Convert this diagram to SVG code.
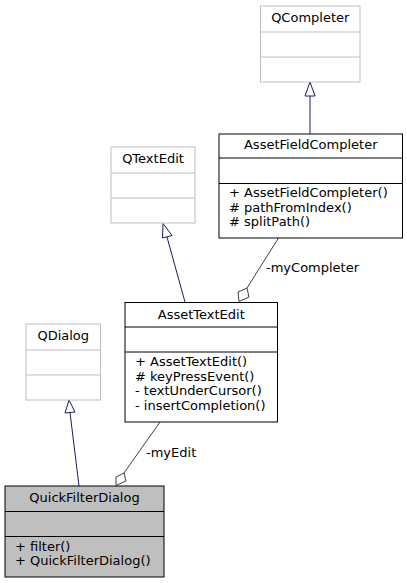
<svg xmlns="http://www.w3.org/2000/svg" width="407" height="583" viewBox="0 0 407 583">
<style>
text{font-family:"DejaVu Sans","Liberation Sans",sans-serif;font-size:13px;fill:#000}
.t{text-anchor:middle}
.ext rect,.ext line{stroke:#bfbfbf;fill:#fff;stroke-width:1}
.cls rect,.cls line{stroke:#000;fill:#fff;stroke-width:1}
.cur rect{fill:#bfbfbf}
.inh{stroke:#191970;fill:none;stroke-width:1}
.inh-h{stroke:#191970;fill:#fff;stroke-width:1}
.agg{stroke:#404040;fill:none;stroke-width:1}
.agg-h{stroke:#404040;fill:#fff;stroke-width:1}
</style>
<rect width="407" height="583" fill="#fff"/>
<g id="connectors">
<line class="inh" x1="310" y1="96" x2="310" y2="134"/>
<polygon class="inh-h" points="310,82 305,96 315,96"/>
<line class="inh" x1="167" y1="237" x2="185" y2="302"/>
<polygon class="inh-h" points="163,223.5 162.5,238 172,235.5"/>
<line class="inh" x1="70" y1="412.5" x2="79" y2="486"/>
<polygon class="inh-h" points="69,400 65,413 75,412"/>
<line class="agg" x1="278.5" y1="238" x2="247" y2="288"/>
<polygon class="agg-h" points="247,288 249,297 239,301.5 238,292"/>
<text x="266" y="272">-myCompleter</text>
<line class="agg" x1="160" y1="422" x2="124" y2="473"/>
<polygon class="agg-h" points="124,473 126,481 116,485.5 116,477"/>
<text x="146" y="457">-myEdit</text>
</g>
<g id="QCompleter" class="ext">
<rect x="260.5" y="6" width="99.5" height="76"/>
<line x1="260.5" y1="32" x2="360" y2="32"/>
<line x1="260.5" y1="57" x2="360" y2="57"/>
<text class="t" x="310.25" y="22">QCompleter</text>
</g>
<g id="AssetFieldCompleter" class="cls">
<rect x="219" y="134" width="183.5" height="104"/>
<line x1="219" y1="158" x2="402.5" y2="158"/>
<line x1="219" y1="183.5" x2="402.5" y2="183.5"/>
<text class="t" x="310.75" y="149">AssetFieldCompleter</text>
<text x="229" y="197">+ AssetFieldCompleter()</text>
<text x="229" y="211.5">#  pathFromIndex()</text>
<text x="229" y="226">#  splitPath()</text>
</g>
<g id="QTextEdit" class="ext">
<rect x="111" y="147" width="84" height="76"/>
<line x1="111" y1="173" x2="195" y2="173"/>
<line x1="111" y1="198" x2="195" y2="198"/>
<text class="t" x="153" y="163">QTextEdit</text>
</g>
<g id="AssetTextEdit" class="cls">
<rect x="125" y="302.5" width="152.5" height="119.5"/>
<line x1="125" y1="327" x2="277.5" y2="327"/>
<line x1="125" y1="352" x2="277.5" y2="352"/>
<text class="t" x="201.25" y="318.5">AssetTextEdit</text>
<text x="135" y="366">+ AssetTextEdit()</text>
<text x="135" y="380.7">#  keyPressEvent()</text>
<text x="135" y="395.3">- textUnderCursor()</text>
<text x="135" y="410">- insertCompletion()</text>
</g>
<g id="QDialog" class="ext">
<rect x="26" y="324" width="74.5" height="76"/>
<line x1="26" y1="350" x2="100.5" y2="350"/>
<line x1="26" y1="375" x2="100.5" y2="375"/>
<text class="t" x="63.25" y="340">QDialog</text>
</g>
<g id="QuickFilterDialog" class="cls cur">
<rect x="5" y="486" width="159" height="91"/>
<line x1="5" y1="511.5" x2="164" y2="511.5"/>
<line x1="5" y1="536.5" x2="164" y2="536.5"/>
<text class="t" x="84.5" y="502">QuickFilterDialog</text>
<text x="15" y="550.5">+ filter()</text>
<text x="15" y="565">+ QuickFilterDialog()</text>
</g>
</svg>
